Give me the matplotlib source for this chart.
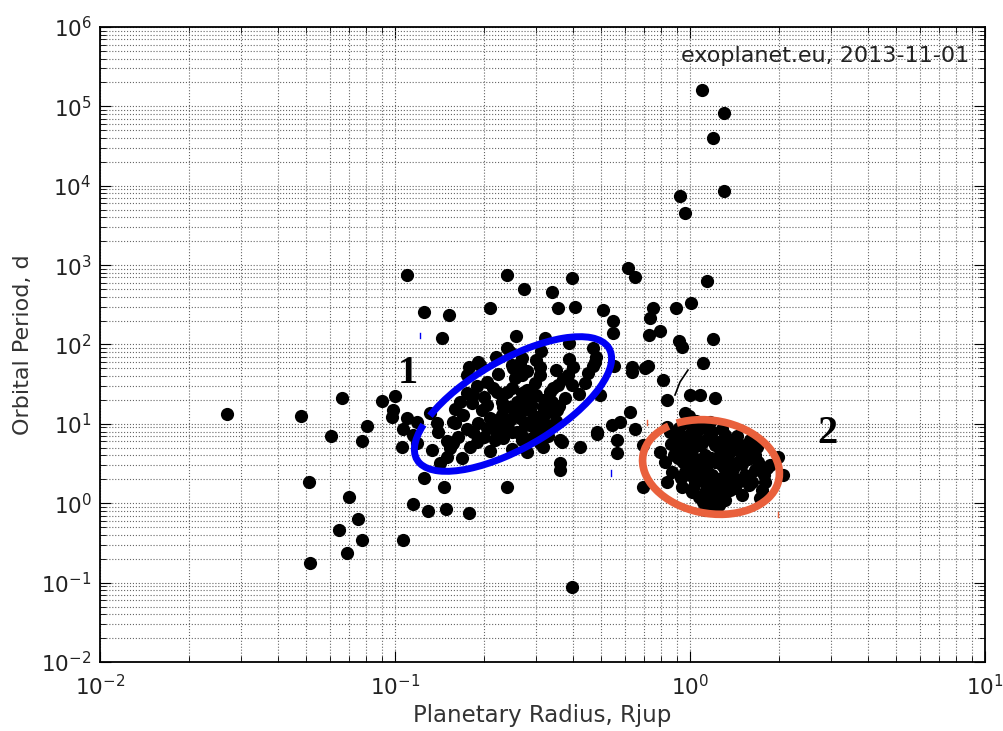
import numpy as np
import matplotlib.pyplot as plt
from matplotlib.patches import Arc
from matplotlib.lines import Line2D
from matplotlib.ticker import LogLocator

# planets outside the two marked groups (radius in Rjup, period in days)
outer_radius = [0.027, 0.048, 0.0511, 0.0515, 0.0661, 0.0607, 0.0698, 0.0749, 0.0646, 0.0773,
                0.0688, 0.0773, 0.0804, 0.0903, 0.100, 0.0985, 0.0977, 0.1064, 0.115, 0.1294,
                0.149, 0.178, 0.1466, 0.1254, 0.1056, 0.1064, 0.1098, 0.1187, 0.1098, 0.1254,
                0.1524, 0.1443, 0.210, 1.098, 1.304, 1.197, 1.304, 0.925, 0.962, 0.2398,
                0.2737, 0.3406, 0.398, 0.3568, 0.4076, 0.6164, 0.6511, 1.142, 0.507, 0.7491,
                0.7317, 0.8966, 1.008, 0.5482, 0.5482, 0.726, 0.7914, 0.9178, 0.9394, 1.197,
                0.636, 0.7205, 1.107, 0.810, 0.8356, 1.0, 1.081, 1.215, 0.6261, 0.579,
                0.5439, 0.6511, 0.5656, 0.5656, 0.6929, 0.6929, 0.2398, 0.398, 0.7038, 0.636]
outer_period = [13.2, 12.5, 1.84, 0.176, 21, 7.0, 1.19, 0.63, 0.457, 0.342,
                0.235, 6.0, 9.3, 19.3, 22.3, 14.8, 12.1, 0.342, 0.97, 0.79,
                0.84, 0.75, 1.59, 2.1, 5.1, 8.55, 11.8, 10.5, 744, 254,
                233, 120, 286, 159000, 81600, 39500, 8500, 7355, 4490, 744,
                496, 454, 682, 286, 294, 911, 702, 625, 270, 286,
                214, 286, 330, 196, 138, 131, 147, 110, 92, 116,
                52, 53, 58, 35.4, 19.8, 22.9, 22.9, 21, 14, 10.5,
                9.6, 8.55, 6.2, 4.26, 5.4, 1.59, 1.59, 0.0875, 50, 45]

# group 1 (blue ellipse and surroundings)
small_radius = [0.257, 0.2398, 0.2453, 0.3226, 0.3126, 0.389, 0.389, 0.191, 0.178, 0.2653,
                0.469, 0.480, 0.469, 0.5525, 0.4839, 0.4238, 0.3682, 0.3625, 0.3625, 0.3176,
                0.4953, 0.1754, 0.1942, 0.1314, 0.115, 0.140, 0.1388, 0.1187, 0.1335, 0.1597,
                0.1536, 0.150, 0.1635, 0.1687, 0.142, 0.1796, 0.197, 0.191, 0.210, 0.205,
                0.227, 0.2183, 0.1897, 0.2453, 0.2398, 0.2218, 0.205, 0.2234, 0.2512, 0.2551,
                0.2716, 0.2492, 0.2653, 0.1754, 0.1824, 0.2802, 0.310, 0.3433, 0.3858, 0.398,
                0.4406, 0.3769, 0.4764, 0.2694, 0.2869, 0.3176, 0.2758, 0.310, 0.354, 0.3176,
                0.2914, 0.2492, 0.2694, 0.2983, 0.3568, 0.3354, 0.2824, 0.1838, 0.166, 0.205,
                0.2324, 0.2716, 0.303, 0.2149, 0.2453, 0.1572, 0.1838, 0.2592, 0.2869, 0.1572,
                0.2324, 0.2694, 0.3625, 0.4839, 0.310, 0.3277,
                0.19, 0.20, 0.215, 0.23, 0.25, 0.26, 0.28, 0.29, 0.30, 0.32,
                0.33, 0.34, 0.36, 0.23, 0.26, 0.29, 0.35, 0.22, 0.24, 0.27,
                0.30, 0.33, 0.20, 0.175, 0.17, 0.16, 0.15, 0.25, 0.28, 0.21,
                0.37, 0.31, 0.35, 0.40, 0.42, 0.45, 0.27, 0.30, 0.22]
small_period = [127, 90, 80, 120, 82, 104, 65, 60, 52, 58,
                90, 69, 53, 53, 7.4, 5.1, 5.9, 3.2, 2.6, 5.1,
                22.9, 41, 55, 13.6, 7.2, 7.8, 10.2, 5.7, 4.65, 10.2,
                4.9, 3.8, 6.8, 3.7, 3.2, 5.1, 14.8, 10.2, 11.8, 8.8,
                9.6, 6.2, 5.9, 16.2, 25, 25, 33.4, 43, 50, 37.5,
                21.6, 7.8, 11.8, 24.3, 18.2, 47, 41, 28, 41, 30.6,
                32.5, 21, 60, 24.3, 14.8, 16.2, 9.6, 9.1, 14.8, 12.1,
                6.6, 55, 41, 32.5, 30.6, 25, 21, 22.9, 18.7, 17.1,
                16.2, 14.8, 12.1, 11.1, 11.1, 10.5, 7.8, 7.8, 9.6, 5.7,
                6.6, 6.2, 6.2, 7.8, 5.7, 9.6,
                30, 22, 28, 19, 28, 19, 27, 18, 23, 20,
                14, 19, 17, 13, 13.5, 11, 10.8, 8, 9.2, 7,
                7.5, 7, 6.8, 8.5, 13, 15.5, 6, 4.8, 4.4, 4.6,
                37, 52, 48, 52, 24, 44, 67, 63, 70]

# group 2 (hot Jupiters, orange ellipse)
hot_radius = [0.9617, 0.8555, 0.8356, 0.9107, 0.9845, 0.7914, 0.8228, 0.9036, 0.869, 0.8356,
              0.9394, 1.0157, 1.107, 1.187, 1.314, 1.501, 1.622, 1.795, 1.824, 1.661,
              1.537, 1.314, 1.187, 1.064, 0.9845, 1.040, 1.124, 1.215, 1.284, 1.187,
              1.388, 1.345, 1.455, 1.244, 1.151, 1.064, 0.9617, 1.537, 1.421, 0.9107,
              1.215, 1.124, 1.727, 2.067, 1.988, 1.687, 1.597, 1.264, 1.367, 1.081,
              1.314, 1.169, 1.477, 1.0, 1.661, 0.889, 1.081, 1.421, 1.754, 1.124,
              0.93, 0.97, 1.02, 1.06, 1.10, 1.15, 1.20, 1.25, 1.30, 1.36,
              1.42, 1.48, 0.95, 1.0, 1.05, 1.09, 1.13, 1.18, 1.22, 1.26,
              1.31, 1.36, 1.40, 1.50, 1.57, 0.93, 1.0, 1.04, 1.10, 1.14,
              1.20, 1.24, 1.29, 1.34, 1.44, 1.58, 1.07, 1.12, 1.17, 1.22,
              1.28, 1.16, 1.25, 1.02, 0.98, 0.88, 0.86, 0.92, 1.01, 1.12,
              1.28, 1.44, 1.60, 1.70, 1.78, 1.87, 1.05, 1.17, 0.99]
hot_period = [13.6, 7.8, 9.1, 7.8, 10.2, 4.4, 3.3, 4.9, 2.46, 1.84,
              1.59, 1.38, 1.03, 0.944, 1.09, 1.26, 1.84, 1.84, 2.76, 4.0,
              5.4, 7.2, 7.8, 8.3, 4.4, 3.0, 4.0, 5.4, 3.0, 2.25,
              2.25, 4.0, 3.3, 1.55, 1.69, 2.07, 2.46, 2.25, 1.55, 3.7,
              1.26, 1.38, 1.16, 2.25, 3.8, 5.1, 4.26, 4.65, 1.46, 2.6,
              2.6, 3.48, 1.95, 6.2, 2.6, 6.2, 5.4, 4.9, 1.46, 0.82,
              5.5, 6.8, 5.0, 6.4, 5.8, 6.6, 6.0, 5.9, 5.2, 6.0,
              5.8, 4.4, 3.3, 3.9, 3.6, 3.2, 2.9, 3.7, 3.3, 3.9,
              3.5, 3.0, 2.7, 3.1, 3.6, 2.1, 2.3, 1.8, 2.0, 1.6,
              1.9, 2.0, 1.8, 1.9, 1.8, 1.7, 1.2, 1.15, 1.05, 1.2,
              1.3, 0.9, 0.95, 1.55, 2.8, 4.0, 5.6, 8.8, 7.6, 9.2,
              8.6, 7.0, 6.3, 3.3, 2.3, 3.0, 11, 10.5, 12.5]

fig = plt.figure(figsize=(10.04, 7.31), dpi=100)
ax = fig.add_axes([0.0996, 0.0944, 0.8815, 0.8687])

for r, p in [(outer_radius, outer_period), (small_radius, small_period), (hot_radius, hot_period)]:
    ax.plot(r, p, 'o', color='black', markersize=9.5, markeredgewidth=0)

ax.set_xscale('log')
ax.set_yscale('log')
ax.set_xlim(1e-2, 1e1)
ax.set_ylim(1e-2, 1e6)

for axis in [ax.xaxis, ax.yaxis]:
    axis.set_major_locator(LogLocator(base=10, numticks=100))
    axis.set_minor_locator(LogLocator(base=10, subs=np.arange(2, 10), numticks=100))

ax.grid(True, which='both', linestyle=':', color='0.4', linewidth=0.8)
ax.tick_params(which='both', direction='in', top=True, right=True, labelsize=15.5,
               labelcolor='#222222')
ax.tick_params(axis='x', pad=9)
ax.tick_params(axis='y', pad=6)
ax.tick_params(which='major', length=8)
ax.tick_params(which='minor', length=4)
for s in ax.spines.values():
    s.set_linewidth(1.3)

ax.set_xlabel('Planetary Radius, Rjup', fontsize=16.5, color='#333333', labelpad=3)
ax.set_ylabel('Orbital Period, d', fontsize=16, color='#333333', labelpad=6)
ax.text(0.982, 0.955, 'exoplanet.eu, 2013-11-01', transform=ax.transAxes,
        ha='right', va='center', fontsize=16, color='#222222')

# hand-drawn annotations (figure inches)
tr = fig.dpi_scale_trans
fig.add_artist(Arc((5.13, 3.27), 2.22, 0.88, angle=30, theta1=163, theta2=518,
                   color='#0000f5', linewidth=5, transform=tr))
fig.add_artist(Arc((7.11, 2.64), 1.38, 0.93, angle=-10, theta1=146, theta2=498,
                   color='#e9603c', linewidth=5.5, transform=tr))
fig.text(4.08, 7.31 - 3.73, '1', transform=tr, fontsize=29, fontweight='bold',
         family='Liberation Serif', ha='center', va='center')
fig.text(8.27, 7.31 - 4.33, '2', transform=tr, fontsize=29, fontweight='bold',
         family='Liberation Serif', ha='center', va='center')
fig.add_artist(Line2D([6.88, 6.80, 6.75], [7.31 - 3.70, 7.31 - 3.82, 7.31 - 3.95],
                      color='black', linewidth=1.2, transform=tr))
for x0, y0, y1, c in [(4.20, 3.33, 3.38, '#0000f5'), (6.11, 4.70, 4.76, '#0000f5'),
                      (6.47, 4.20, 4.25, '#e9603c'), (7.78, 5.12, 5.17, '#e9603c')]:
    fig.add_artist(Line2D([x0, x0], [7.31 - y0, 7.31 - y1], color=c, linewidth=1, transform=tr))

fig.savefig('out.png', dpi=100)
